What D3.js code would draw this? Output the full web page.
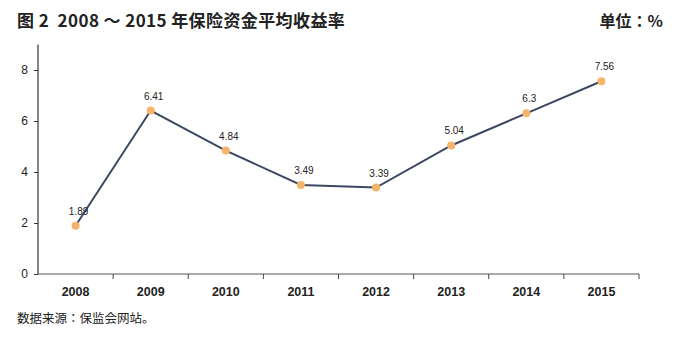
<!DOCTYPE html>
<html>
<head>
<meta charset="utf-8">
<script src="https://cdn.jsdelivr.net/npm/d3@7/dist/d3.min.js"></script>
<style>
  html, body { margin: 0; padding: 0; background: #fff; }
  svg { display: block; }
  .pre { white-space: pre; }
</style>
</head>
<body>
<svg id="chart" width="680" height="339"></svg>
<script>
// Average investment return of insurance funds, 2008–2015 (%)
const years = ["2008", "2009", "2010", "2011", "2012", "2013", "2014", "2015"];
const returns = [1.89, 6.41, 4.84, 3.49, 3.39, 5.04, 6.3, 7.56];
const yTicks = [0, 2, 4, 6, 8];

const titleText = "图 2  2008 ～ 2015 年保险资金平均收益率";
const unitText = "单位：%";
const sourceText = "数据来源：保监会网站。";

const svg = d3.select("#chart");
const cjk = "'Noto Sans CJK JP', 'Noto Sans CJK SC', sans-serif";
const latin = "'Liberation Sans', Arial, sans-serif";

const x = d3.scaleBand().domain(years).range([38, 639]).padding(0);
const y = d3.scaleLinear().domain([0, 9]).range([274, 44.5]);

// Title and unit
svg.append("text")
  .attr("class", "pre")
  .attr("x", 17).attr("y", 27)
  .attr("font-family", cjk).attr("font-size", 17).attr("font-weight", 700)
  .attr("letter-spacing", 0.4)
  .attr("fill", "#222")
  .text(titleText);

svg.append("text")
  .attr("x", 663).attr("y", 27)
  .attr("text-anchor", "end")
  .attr("font-family", cjk).attr("font-size", 16).attr("font-weight", 700)
  .attr("fill", "#222")
  .text(unitText);

// Y axis
const yAxis = svg.append("g")
  .attr("transform", `translate(${x.range()[0]},0)`)
  .call(d3.axisLeft(y).tickValues(yTicks).tickSize(4).tickPadding(6).tickFormat(d3.format("d")));
yAxis.select(".domain").attr("d", `M0,${y(0)}V${y(9)}`).attr("stroke", "#333").attr("stroke-width", 1.2);
yAxis.selectAll(".tick line").attr("stroke", "#333");
yAxis.selectAll(".tick text")
  .attr("font-family", latin).attr("font-size", 12).attr("fill", "#222");

// X axis with ticks at band boundaries
const xAxis = svg.append("g").attr("transform", `translate(0,${y(0)})`);
xAxis.append("path")
  .attr("d", `M${x.range()[0]},0H${x.range()[1]}`)
  .attr("stroke", "#555").attr("stroke-width", 1.2).attr("fill", "none");
const bounds = years.map(d => x(d)).concat([x.range()[1]]);
xAxis.selectAll("line.tk").data(bounds.slice(1)).join("line")
  .attr("class", "tk")
  .attr("x1", d => d).attr("x2", d => d)
  .attr("y1", 0).attr("y2", 5)
  .attr("stroke", "#444").attr("stroke-width", 1);
xAxis.selectAll("text").data(years).join("text")
  .attr("x", d => x(d) + x.bandwidth() / 2)
  .attr("y", 22)
  .attr("text-anchor", "middle")
  .attr("font-family", latin).attr("font-size", 12.5).attr("font-weight", 700)
  .attr("fill", "#222")
  .text(d => d);

// Line and markers
const cx = d => x(d) + x.bandwidth() / 2;
const pts = years.map((d, i) => ({ year: d, value: returns[i] }));

svg.append("path")
  .datum(pts)
  .attr("d", d3.line().x(d => cx(d.year)).y(d => y(d.value)))
  .attr("fill", "none")
  .attr("stroke", "#3c4862")
  .attr("stroke-width", 2);

svg.selectAll("circle.pt").data(pts).join("circle")
  .attr("class", "pt")
  .attr("cx", d => cx(d.year))
  .attr("cy", d => y(d.value))
  .attr("r", 4)
  .attr("fill", "#f5b36c");

svg.selectAll("text.val").data(pts).join("text")
  .attr("class", "val")
  .attr("x", d => cx(d.year) + 3)
  .attr("y", d => y(d.value) - 11)
  .attr("text-anchor", "middle")
  .attr("font-family", latin).attr("font-size", 10)
  .attr("fill", "#222")
  .text(d => d.value);

// Source note
svg.append("text")
  .attr("x", 17).attr("y", 323)
  .attr("font-family", cjk).attr("font-size", 12.5)
  .attr("fill", "#222")
  .text(sourceText);
</script>
</body>
</html>
